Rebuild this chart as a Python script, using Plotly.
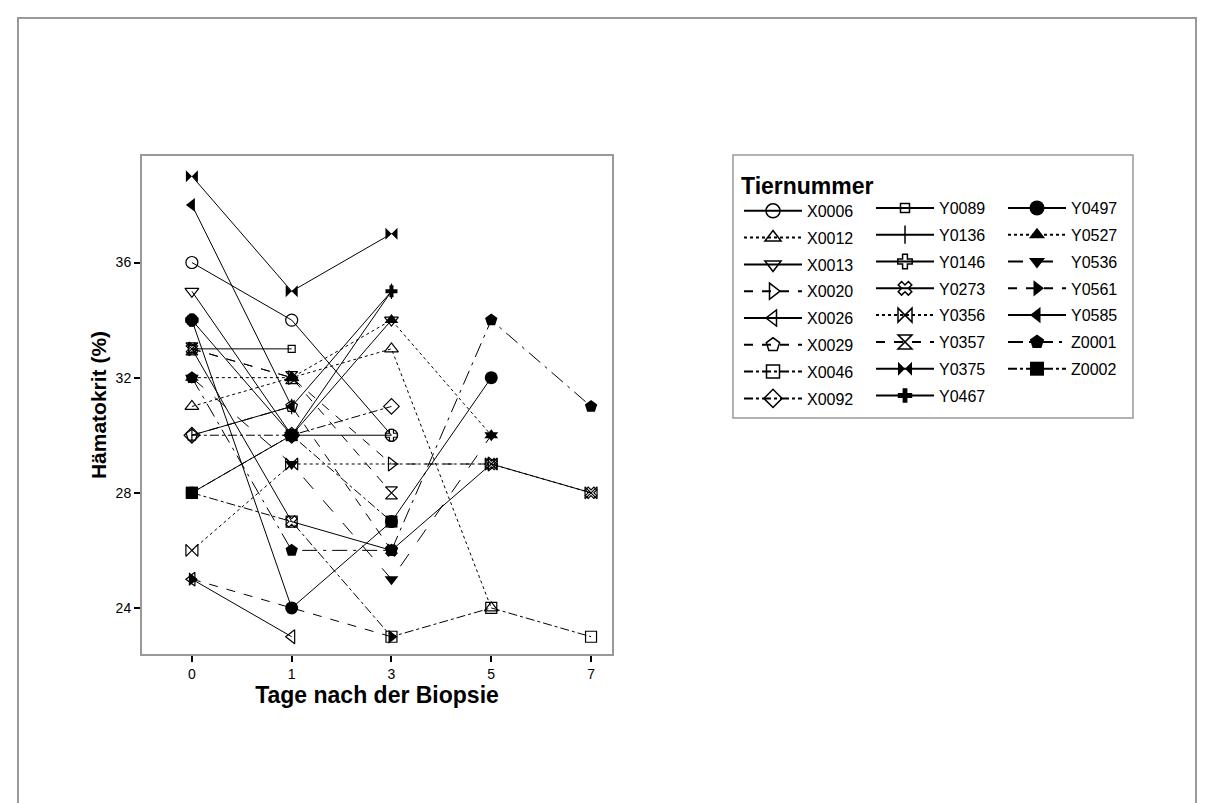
import plotly.graph_objects as go

# ---------------- data ----------------
days = ["0", "1", "3", "5", "7"]
animals = ["X0006", "X0012", "X0013", "X0020", "X0026", "X0029", "X0046", "X0092",
           "Y0089", "Y0136", "Y0146", "Y0273", "Y0356", "Y0357", "Y0375", "Y0467",
           "Y0497", "Y0527", "Y0536", "Y0561", "Y0585", "Z0001", "Z0002"]

X0006 = [36, 34, 30, None, None]
X0012 = [31, 32, 33, 24, None]
X0013 = [35, 30, 34, None, None]
X0020 = [33, 32, 29, 29, None]
X0026 = [25, 23, None, None, None]
X0029 = [30, 31, 26, None, None]
X0046 = [28, 27, 23, 24, 23]
X0092 = [30, 30, 31, None, None]
Y0089 = [33, 33, None, None, None]
Y0136 = [30, 31, 35, None, None]
Y0146 = [34, 30, 30, None, None]
Y0273 = [33, 27, 26, 29, 28]
Y0356 = [26, 29, None, 29, 28]
Y0357 = [33, 32, 28, None, None]
Y0375 = [39, 35, 37, None, None]
Y0467 = [28, 30, 35, None, None]
Y0497 = [34, 24, 27, 32, None]
Y0527 = [32, 32, 34, 30, None]
Y0536 = [32, 29, 25, 30, None]
Y0561 = [25, None, 23, None, None]
Y0585 = [38, 31, None, None, None]
Z0001 = [32, 26, 26, 34, 31]
Z0002 = [28, 30, 27, None, None]

values = [X0006, X0012, X0013, X0020, X0026, X0029, X0046, X0092,
          Y0089, Y0136, Y0146, Y0273, Y0356, Y0357, Y0375, Y0467,
          Y0497, Y0527, Y0536, Y0561, Y0585, Z0001, Z0002]

y_ticks = [24, 28, 32, 36]

# ---------------- styles ----------------
symbols = ["circle-open", "triangle-up-open", "triangle-down-open", "triangle-right-open",
           "triangle-left-open", "pentagon-open", "square-open", "diamond-open",
           "square-open", "line-ns-open", "cross-open", "x-open", "bowtie-open",
           "hourglass-open", "bowtie", "cross",
           "circle", "triangle-up", "triangle-down", "triangle-right", "triangle-left",
           "pentagon", "square"]
sizes = [12, 12, 12, 12, 12, 12, 11, 12,
         7, 11, 10, 10, 12, 12, 12, 10,
         13, 12, 12, 12, 12, 13, 12]
dashes = ["solid", "dot", "solid", "dash", "solid", "dash", "dashdot", "dashdot",
          "solid", "solid", "solid", "solid", "dot", "dash", "solid", "solid",
          "solid", "dot", "longdash", "dash", "solid", "longdashdot", "dashdot"]

fig = go.Figure()

# data traces
for name, vals, sym, sz, ds in zip(animals, values, symbols, sizes, dashes):
    open_sym = sym.endswith("-open")
    fig.add_trace(go.Scatter(
        x=days, y=vals, mode="lines+markers", name=name,
        connectgaps=True, showlegend=False,
        line=dict(color="black", width=1, dash=ds),
        marker=dict(symbol=sym, size=sz, color="black",
                    line=dict(color="black", width=1.2 if open_sym else 0)),
    ))

# legend-only traces in three columns
legend_ids = ["legend"] * 8 + ["legend2"] * 8 + ["legend3"] * 7
for name, sym, sz, ds, lg in zip(animals, symbols, sizes, dashes, legend_ids):
    open_sym = sym.endswith("-open")
    fig.add_trace(go.Scatter(
        x=[None], y=[None], mode="lines+markers", name=name,
        legend=lg, legendgroup=name,
        line=dict(color="black", width=2, dash=ds),
        marker=dict(symbol=sym, size=sz + 2, color="black",
                    line=dict(color="black", width=1.5 if open_sym else 0)),
    ))

W, H = 1214, 803
L, R, T, B = 142, 612, 156, 654
pw, ph = R - L, B - T

def px(xp):
    return (xp - L) / pw

def py(yp):
    return 1 - (yp - T) / ph

font = "Liberation Sans, Arial, sans-serif"

leg_common = dict(bgcolor="rgba(0,0,0,0)", borderwidth=0,
                  font=dict(family=font, size=16, color="black"),
                  tracegroupgap=3, itemwidth=58,
                  xanchor="left", yanchor="top")

fig.update_layout(
    width=W, height=H,
    margin=dict(l=L, r=W - R, t=T, b=H - B, pad=0),
    paper_bgcolor="white", plot_bgcolor="white",
    font=dict(family=font, color="black"),
    xaxis=dict(
        type="category", range=[-0.5, 4.21],
        showgrid=False, zeroline=False,
        showline=True, mirror=True, linecolor="#999999", linewidth=2,
        ticks="outside", ticklen=6, tickcolor="black", tickwidth=2,
        tickfont=dict(family=font, size=14, color="black"),
        title=dict(text="<b>Tage nach der Biopsie</b>", standoff=2,
                   font=dict(family=font, size=23, color="black")),
    ),
    yaxis=dict(
        range=[22.4, 39.7], tickvals=y_ticks,
        showgrid=False, zeroline=False,
        showline=True, mirror=True, linecolor="#999999", linewidth=2,
        ticks="outside", ticklen=6, tickcolor="black", tickwidth=2,
        tickfont=dict(family=font, size=14, color="black"),
        title=dict(text="<b>Hämatokrit (%)</b>", standoff=3,
                   font=dict(family=font, size=21, color="black")),
    ),
    legend=dict(x=px(739), y=py(164),
                title=dict(text="<b>Tiernummer</b>",
                           font=dict(family=font, size=23, color="black"), side="top"),
                **leg_common),
    legend2=dict(x=px(871), y=py(191), **leg_common),
    legend3=dict(x=px(1003), y=py(191), **leg_common),
    shapes=[
        dict(type="rect", xref="paper", yref="paper",
             x0=px(18), x1=px(1196), y0=py(18), y1=py(812),
             line=dict(color="#999999", width=2), fillcolor="rgba(0,0,0,0)", layer="below"),
        dict(type="rect", xref="paper", yref="paper",
             x0=px(733), x1=px(1133), y0=py(155), y1=py(418),
             line=dict(color="#999999", width=1.5), fillcolor="rgba(0,0,0,0)", layer="below"),
    ],
)

fig.write_html("out.html")
